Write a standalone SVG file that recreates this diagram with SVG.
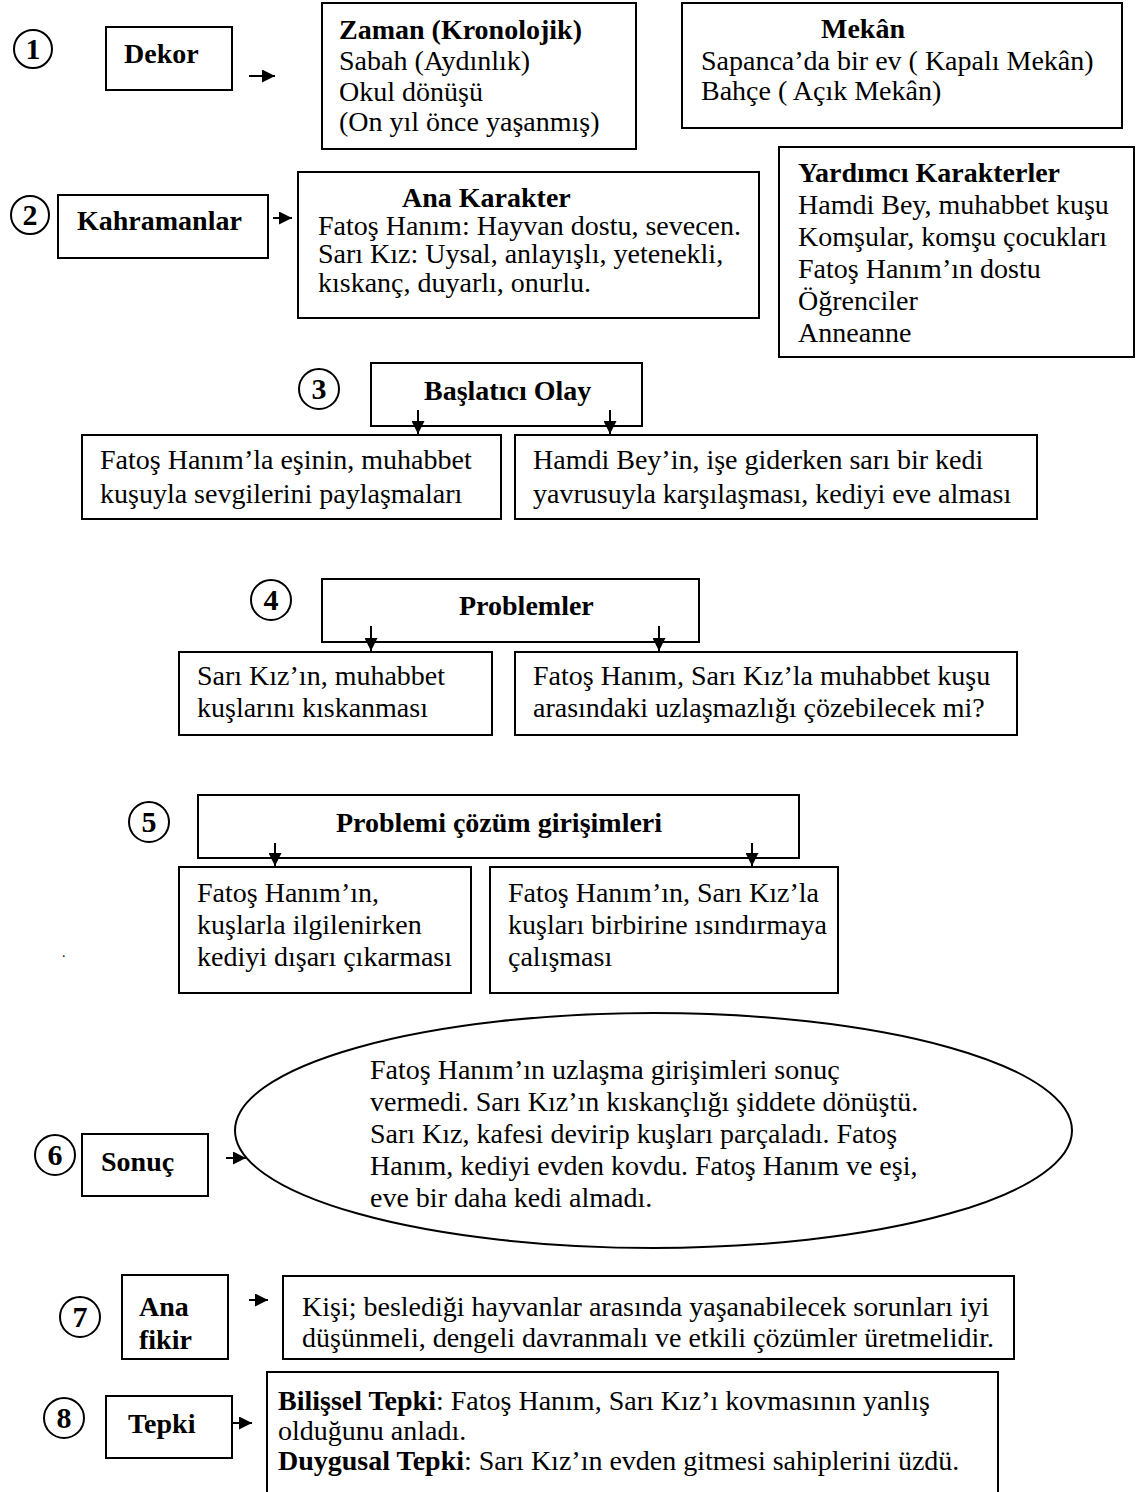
<svg xmlns="http://www.w3.org/2000/svg" width="1140" height="1492" viewBox="0 0 1140 1492">
<defs>
<marker id="ah" viewBox="0 0 13 13" refX="13" refY="6.5" markerWidth="13" markerHeight="13" markerUnits="userSpaceOnUse" orient="auto">
<path d="M0,0 L13,6.5 L0,13 z" fill="#000"/>
</marker>
<style>
.b{fill:#fff;stroke:#000;stroke-width:2}
.c{fill:#fff;stroke:#000;stroke-width:2}
.t{font-family:"Liberation Serif","Times New Roman",serif;font-size:28px;fill:#000}
.h{font-family:"Liberation Serif","Times New Roman",serif;font-size:28px;font-weight:bold;fill:#000}
.n{font-family:"Liberation Serif","Times New Roman",serif;font-size:30px;font-weight:bold;fill:#000;text-anchor:middle}
.a{fill:none;stroke:#000;stroke-width:2;marker-end:url(#ah)}
</style>
</defs>
<rect width="1140" height="1492" fill="#fff"/>

<g id="n1"><circle class="c" cx="33" cy="49" r="19"/><text class="n" x="33" y="59">1</text></g>
<g id="dekor"><rect class="b" x="106" y="27" width="126" height="63"/><text class="h" x="124" y="63">Dekor</text></g>
<g id="zaman"><rect class="b" x="322" y="3" width="314" height="146"/>
<text class="h" x="339" y="39">Zaman (Kronolojik)</text>
<text class="t" x="339" y="70">Sabah (Aydınlık)</text>
<text class="t" x="339" y="101">Okul dönüşü</text>
<text class="t" x="339" y="131">(On yıl önce yaşanmış)</text></g>
<g id="mekan"><rect class="b" x="682" y="3" width="440" height="125"/>
<text class="h" x="821" y="38">Mekân</text>
<text class="t" x="701" y="70">Sapanca’da bir ev ( Kapalı Mekân)</text>
<text class="t" x="701" y="100">Bahçe ( Açık Mekân)</text></g>

<g id="n2"><circle class="c" cx="30" cy="215" r="19"/><text class="n" x="30" y="225">2</text></g>
<g id="kahramanlar"><rect class="b" x="58" y="195" width="210" height="63"/><text class="h" x="77" y="230">Kahramanlar</text></g>
<g id="anakarakter"><rect class="b" x="298" y="172" width="461" height="146"/>
<text class="h" x="402" y="207">Ana Karakter</text>
<text class="t" x="318" y="235">Fatoş Hanım: Hayvan dostu, sevecen.</text>
<text class="t" x="318" y="263">Sarı Kız: Uysal, anlayışlı, yetenekli,</text>
<text class="t" x="318" y="292">kıskanç, duyarlı, onurlu.</text></g>
<g id="yardimci"><rect class="b" x="779" y="147" width="355" height="210"/>
<text class="h" x="798" y="182">Yardımcı Karakterler</text>
<text class="t" x="798" y="214">Hamdi Bey, muhabbet kuşu</text>
<text class="t" x="798" y="246">Komşular, komşu çocukları</text>
<text class="t" x="798" y="278">Fatoş Hanım’ın dostu</text>
<text class="t" x="798" y="310">Öğrenciler</text>
<text class="t" x="798" y="342">Anneanne</text></g>

<g id="n3"><circle class="c" cx="319" cy="389" r="20"/><text class="n" x="319" y="399">3</text></g>
<g id="baslatici"><rect class="b" x="371" y="363" width="271" height="63"/><text class="h" x="424" y="400">Başlatıcı Olay</text></g>
<g id="olay1"><rect class="b" x="82" y="435" width="419" height="84"/>
<text class="t" x="100" y="469">Fatoş Hanım’la eşinin, muhabbet</text>
<text class="t" x="100" y="503">kuşuyla sevgilerini paylaşmaları</text></g>
<g id="olay2"><rect class="b" x="515" y="435" width="522" height="84"/>
<text class="t" x="533" y="469">Hamdi Bey’in, işe giderken sarı bir kedi</text>
<text class="t" x="533" y="503">yavrusuyla karşılaşması, kediyi eve alması</text></g>

<g id="n4"><circle class="c" cx="271" cy="600" r="20"/><text class="n" x="271" y="610">4</text></g>
<g id="problemler"><rect class="b" x="322" y="579" width="377" height="63"/><text class="h" x="459" y="615">Problemler</text></g>
<g id="problem1"><rect class="b" x="179" y="652" width="313" height="83"/>
<text class="t" x="197" y="685">Sarı Kız’ın, muhabbet</text>
<text class="t" x="197" y="717">kuşlarını kıskanması</text></g>
<g id="problem2"><rect class="b" x="515" y="652" width="502" height="83"/>
<text class="t" x="533" y="685">Fatoş Hanım, Sarı Kız’la muhabbet kuşu</text>
<text class="t" x="533" y="717">arasındaki uzlaşmazlığı çözebilecek mi?</text></g>

<g id="n5"><circle class="c" cx="149" cy="822" r="20"/><text class="n" x="149" y="832">5</text></g>
<g id="cozum"><rect class="b" x="198" y="795" width="601" height="63"/><text class="h" x="336" y="832">Problemi çözüm girişimleri</text></g>
<g id="cozum1"><rect class="b" x="179" y="867" width="292" height="126"/>
<text class="t" x="197" y="902">Fatoş Hanım’ın,</text>
<text class="t" x="197" y="934">kuşlarla ilgilenirken</text>
<text class="t" x="197" y="966">kediyi dışarı çıkarması</text></g>
<g id="cozum2"><rect class="b" x="490" y="867" width="348" height="126"/>
<text class="t" x="508" y="902">Fatoş Hanım’ın, Sarı Kız’la</text>
<text class="t" x="508" y="934">kuşları birbirine ısındırmaya</text>
<text class="t" x="508" y="966">çalışması</text></g>
<text class="t" x="62" y="957" style="font-size:14px">.</text>

<g id="n6"><circle class="c" cx="55" cy="1155" r="20"/><text class="n" x="55" y="1165">6</text></g>
<g id="sonuc"><rect class="b" x="82" y="1134" width="126" height="62"/><text class="h" x="101" y="1171">Sonuç</text></g>
<g id="sonucmetin"><ellipse cx="653.5" cy="1130.5" rx="418.5" ry="117.5" fill="#fff" stroke="#000" stroke-width="2"/>
<text class="t" x="370" y="1079">Fatoş Hanım’ın uzlaşma girişimleri sonuç</text>
<text class="t" x="370" y="1111">vermedi. Sarı Kız’ın kıskançlığı şiddete dönüştü.</text>
<text class="t" x="370" y="1143">Sarı Kız, kafesi devirip kuşları parçaladı. Fatoş</text>
<text class="t" x="370" y="1175">Hanım, kediyi evden kovdu. Fatoş Hanım ve eşi,</text>
<text class="t" x="370" y="1207">eve bir daha kedi almadı.</text></g>

<g id="n7"><circle class="c" cx="80" cy="1317" r="20"/><text class="n" x="80" y="1327">7</text></g>
<g id="anafikir"><rect class="b" x="122" y="1275" width="106" height="84"/>
<text class="h" x="139" y="1316">Ana</text>
<text class="h" x="139" y="1349">fikir</text></g>
<g id="anafikirmetin"><rect class="b" x="283" y="1276" width="731" height="83"/>
<text class="t" x="302" y="1316">Kişi; beslediği hayvanlar arasında yaşanabilecek sorunları iyi</text>
<text class="t" x="302" y="1347">düşünmeli, dengeli davranmalı ve etkili çözümler üretmelidir.</text></g>

<g id="n8"><circle class="c" cx="64" cy="1418" r="20"/><text class="n" x="64" y="1428">8</text></g>
<g id="tepki"><rect class="b" x="106" y="1396" width="126" height="62"/><text class="h" x="128" y="1433">Tepki</text></g>
<g id="tepkimetin"><rect class="b" x="267" y="1372" width="731" height="130"/>
<text class="t" x="278" y="1410"><tspan font-weight="bold">Bilişsel Tepki</tspan>: Fatoş Hanım, Sarı Kız’ı kovmasının yanlış</text>
<text class="t" x="278" y="1440">olduğunu anladı.</text>
<text class="t" x="278" y="1470"><tspan font-weight="bold">Duygusal Tepki</tspan>: Sarı Kız’ın evden gitmesi sahiplerini üzdü.</text></g>

<g id="connectors">
<path class="a" d="M249,76 H275"/>
<path class="a" d="M273,218 H292"/>
<path class="a" d="M418,410 V434"/>
<path class="a" d="M610,410 V434"/>
<path class="a" d="M371,626 V651"/>
<path class="a" d="M659,626 V651"/>
<path class="a" d="M275,843 V866"/>
<path class="a" d="M752,843 V866"/>
<path class="a" d="M226,1158 H246"/>
<path class="a" d="M249,1300 H268"/>
<path class="a" d="M233,1423 H252"/>
</g>
</svg>
